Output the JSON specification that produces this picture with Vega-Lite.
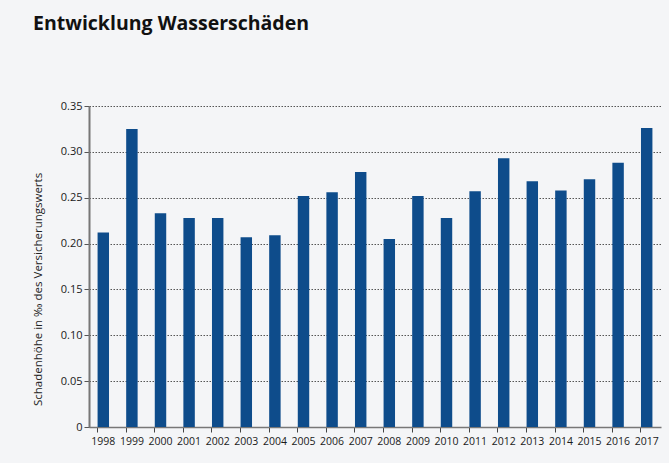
{
  "$schema": "https://vega.github.io/schema/vega-lite/v6.json",
  "width": 572,
  "height": 321,
  "autosize": {"type": "none"},
  "padding": {"left": 89, "top": 106, "right": 8, "bottom": 36},
  "background": "#f4f5f7",
  "title": {
    "text": "Entwicklung Wasserschäden",
    "anchor": "start",
    "frame": "group",
    "dx": -56,
    "offset": 66,
    "font": "Open Sans",
    "fontSize": 19.5,
    "fontWeight": "bold",
    "color": "#111111"
  },
  "data": {
    "values": [
      {"year": "1998", "value": 0.212},
      {"year": "1999", "value": 0.325},
      {"year": "2000", "value": 0.233},
      {"year": "2001", "value": 0.228},
      {"year": "2002", "value": 0.228},
      {"year": "2003", "value": 0.207},
      {"year": "2004", "value": 0.209},
      {"year": "2005", "value": 0.252},
      {"year": "2006", "value": 0.256},
      {"year": "2007", "value": 0.278},
      {"year": "2008", "value": 0.205},
      {"year": "2009", "value": 0.252},
      {"year": "2010", "value": 0.228},
      {"year": "2011", "value": 0.257},
      {"year": "2012", "value": 0.293},
      {"year": "2013", "value": 0.268},
      {"year": "2014", "value": 0.258},
      {"year": "2015", "value": 0.270},
      {"year": "2016", "value": 0.288},
      {"year": "2017", "value": 0.326}
    ]
  },
  "mark": {"type": "bar", "color": "#0e4c8b"},
  "encoding": {
    "x": {
      "field": "year",
      "type": "ordinal",
      "scale": {"paddingInner": 0.6, "paddingOuter": 0.3},
      "axis": {
        "title": null,
        "labelAngle": 0,
        "labelFont": "Open Sans",
        "labelFontSize": 10.5,
        "labelColor": "#1a1a1a",
        "labelPadding": 4,
        "bandPosition": 0,
        "ticks": true,
        "tickSize": 5,
        "tickColor": "#444444",
        "domainColor": "#777777",
        "domainWidth": 1.5,
        "grid": false
      }
    },
    "y": {
      "field": "value",
      "type": "quantitative",
      "scale": {"domain": [0, 0.35], "nice": false},
      "axis": {
        "title": "Schadenhöhe in ‰ des Versicherungswerts",
        "titleFont": "Open Sans",
        "titleFontSize": 11.5,
        "titleFontWeight": "normal",
        "titleColor": "#222222",
        "titleX": -51,
        "titleY": 183,
        "titleAlign": "center",
        "titleBaseline": "middle",
        "titleAngle": 270,
        "values": [0, 0.05, 0.1, 0.15, 0.2, 0.25, 0.3, 0.35],
        "labelExpr": "datum.value == 0 ? '0' : format(datum.value, '.2f')",
        "labelFont": "Open Sans",
        "labelFontSize": 11,
        "labelColor": "#1a1a1a",
        "labelPadding": 2,
        "tickSize": 5,
        "tickColor": "#555555",
        "domainColor": "#777777",
        "domainWidth": 2,
        "grid": true,
        "gridColor": "#555555",
        "gridDash": [1.5, 1.5],
        "gridWidth": 1
      }
    }
  },
  "config": {"view": {"stroke": null}}
}
